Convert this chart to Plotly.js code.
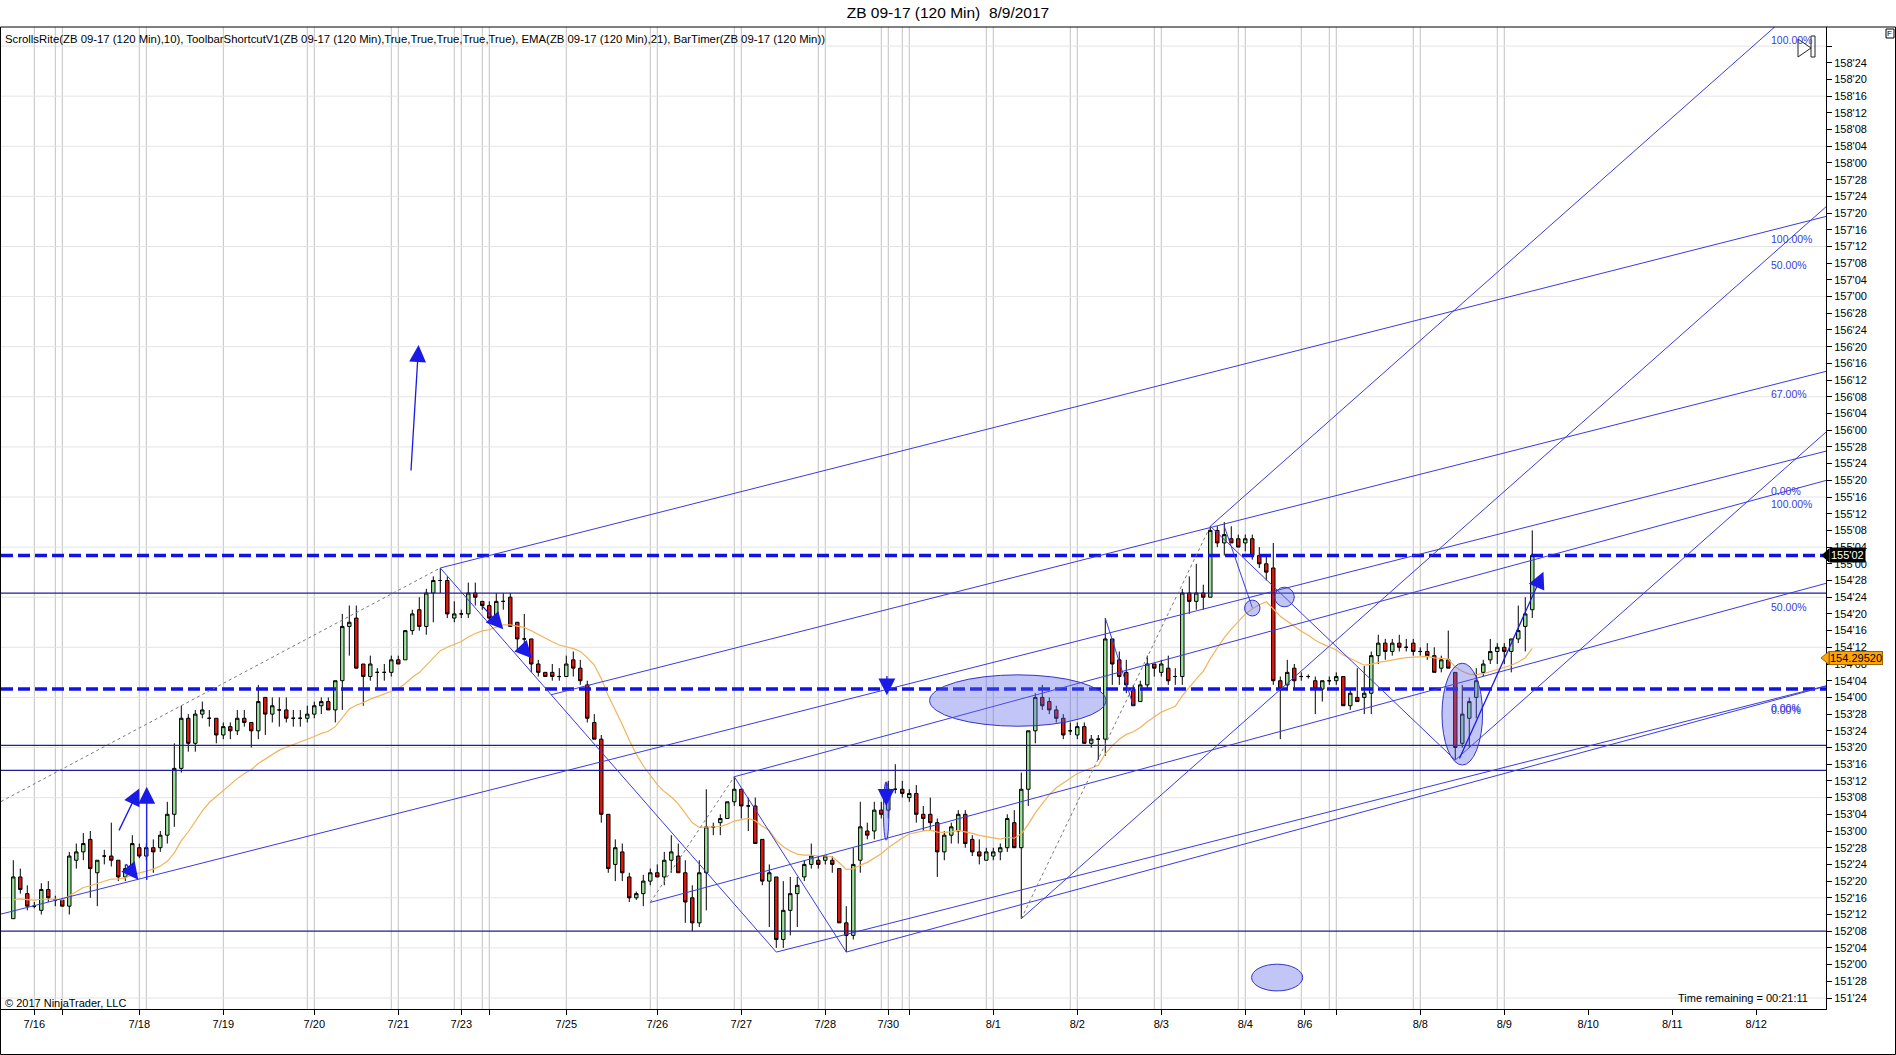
<!DOCTYPE html>
<html>
<head>
<meta charset="utf-8">
<script src="https://cdn.plot.ly/plotly-3.0.1.min.js"></script>
<style>
html,body{margin:0;padding:0;background:#fff;}
#chart{width:1896px;height:1055px;}
</style>
</head>
<body>
<div id="chart"></div>
<script>
// ===== DATA (prices in 32nds of a point; bar index 0 = first bar of the 7/16 session) =====
const firstBar = -3;
const opens = [
4875,4885,4881,4878,4877,4882,4879.5,4879.5,4878,4889,
4891,4894,4886,4890,4890,4889,4885,4887,4892,4890,
4892,4892,4895,4900,4911,4923,4917,4924,4923,4923,
4919,4921,4920,4923,4922,4920,4928,4924,4925,4925,
4923,4923,4923,4924,4926,4927,4925,4932,4945,4947,
4936,4933,4934,4934,4934,4937,4937,4944,4949,4945,
4953,4956,4956,4947,4948,4948,4953,4951,4950,4947,
4951,4952,4946,4942,4942,4936,4934,4934,4933,4933,
4937,4935,4931,4922,4918,4900,4888,4891,4885,4880,
4881,4884,4886,4885,4889,4890,4886,4880,4874,4886,
4897,4898,4899,4903,4906,4902,4902,4894,4884,4885,
4870,4877,4881,4885,4888,4889,4889,4889,4887,4874,
4871,4889,4896,4896,4901,4901,4906,4906,4904,4905,
4900,4900,4898,4891,4895,4896,4900,4894,4891,4889,
4890,4891,4892,4898,4892,4906,4920,4928,4927,4925,
4923,4920,4919,4921,4917,4918,4918,4942,4937,4934,
4930,4927,4931,4936,4934,4935,4933,4933,4953,4951,
4953,4952,4968,4965,4966,4966,4965,4966,4962,4960,
4959,4932,4931,4935,4933,4933,4932,4930,4932,4932,
4933,4926,4928,4928,4929,4938,4941,4939,4941,4940,
4941,4939,4939,4938,4935,4937,4934,4917,4923,4928,
4934,4937,4939,4940,4939,4942,4945,4949];
const highs = [
4889,4887,4883,4879,4883.5,4884,4880.5,4880,4891,4893,
4895.5,4896,4889,4891.5,4898,4889,4888,4895,4893,4893,
4894,4896,4903,4917,4926,4924,4925,4927,4925,4923,
4922,4922,4925,4925,4922,4931,4928,4928,4928,4928,
4925,4925,4926,4927,4928,4928,4932,4948,4950,4950,
4936,4938,4935,4936,4938,4938,4944,4949,4952,4954,
4957,4959,4957,4951,4949,4955.5,4955.5,4951,4951,4953,
4953,4953,4946,4948,4942,4937,4934,4936,4935,4938,
4939,4937,4932,4924,4919,4900,4894,4893,4886,4881.5,
4885.5,4887,4888,4891,4895,4893,4889,4883,4889,4906,
4898,4900,4903,4909,4906,4904,4904,4894,4888,4885,
4884,4885,4885,4889,4893,4890,4890,4890,4887,4878,
4892,4903,4898,4903,4903,4908,4912,4908,4906,4907,
4902,4904,4899,4896,4898,4901,4901,4895,4894,4892,
4892,4893,4900,4901,4910,4920,4929,4931,4928,4926,
4924,4922,4922,4922,4919,4919,4947,4942,4939,4937,
4931,4932,4938,4936,4937,4938,4935,4954,4957,4960,
4955,4969,4969,4970,4969,4967,4967,4967,4964,4962,
4965,4933,4937,4936,4934,4933.5,4933,4932,4933,4934,
4933,4930,4935,4935.5,4939,4943,4942,4942,4943,4942,
4942,4940,4941,4940,4938,4944,4934,4931,4928,4935,
4937,4942,4941,4941,4942,4950,4952,4968];
const lows = [
4875,4881,4877,4877.5,4876,4879,4878,4878,4876,4887,
4889,4880,4878,4888,4887.5,4884,4884,4886,4889.5,4889,
4886,4891,4893,4897,4910,4915,4915,4923,4921,4917,
4918,4918,4919,4921,4916,4918,4919,4922,4921,4922,
4921,4921,4922,4923,4924,4925,4922,4925,4938,4935,
4926,4932,4930,4932,4933,4936,4937,4943,4944,4943,
4946,4953,4947,4946,4947,4947,4950,4949,4946,4946,
4949,4945,4939,4940,4934,4933,4933,4932,4932,4933,
4933,4931,4922,4918,4898,4886,4884,4884,4879,4879.5,
4878,4883,4885,4883,4886,4886,4874,4872,4873,4877,
4895,4895,4899,4902,4899,4896,4893,4883,4873,4868,
4868,4871,4873,4884,4887,4887,4888,4886,4874,4867,
4870,4886,4894,4894,4899,4899,4905,4904,4903,4898,
4896,4896,4885,4889,4893,4893,4892,4890,4888,4889,
4889,4889,4891,4892,4875,4902,4917,4925,4924,4922,
4918,4919,4918,4917,4916,4913,4914,4931,4931,4929,
4926,4927,4930,4933,4933,4931,4931,4931,4948,4949,
4949,4952,4964,4962,4965,4964,4963,4961,4959,4956,
4931,4918,4930,4930,4932,4932.5,4924,4927,4931,4931,
4926,4925,4927,4924,4924,4936,4937,4938,4939,4939,
4938,4938,4937,4934,4934,4935,4913,4916,4916,4923,
4933,4936,4936,4936,4934,4941,4939,4947];
const closes = [
4885,4882,4878,4878,4882,4880,4879.5,4878,4890,4891,
4893,4887,4889,4890,4889,4885,4887,4893,4890,4892,
4891,4895,4900,4911,4923,4917,4924,4925,4923,4919,
4921,4920,4923,4922,4920,4927,4924,4926,4925,4923,
4923,4923,4924,4926,4927,4925,4932,4945,4946,4935,
4933,4936,4934,4934,4937,4936,4944,4948,4945,4953,
4956,4956,4948,4948,4948,4953,4952,4950,4947,4951,
4951,4945,4942,4942,4936,4934,4933,4933,4933,4936,
4935,4932,4923,4918,4900,4887,4892,4886,4880,4881,
4884,4886,4885,4889,4891,4886,4879,4874,4886,4897,
4897,4899,4903,4906,4902,4902,4893,4884,4886,4870,
4877,4881,4883,4888,4890,4888,4890,4888,4874,4871,
4888,4897,4895,4901,4900,4906,4906,4905,4905,4900,
4899,4898,4891,4895,4897,4900,4893,4891,4890,4891,
4891,4892,4899,4892,4906,4920,4928,4926,4925,4923,
4919,4920,4921,4917,4918,4918,4942,4936,4933,4931,
4926,4931,4936,4935,4936,4932,4933,4953,4951,4953,
4952,4968,4965,4967,4965,4964,4966,4962,4960,4958,
4932,4930,4934,4932,4933,4933,4930,4932,4932,4933,
4926,4929,4927,4929,4938,4941,4939,4941,4940,4940,
4939,4939,4938,4934,4937,4935,4916,4924,4927,4932,
4936,4939,4940,4939,4942,4944,4948,4962];

const emaPeriod = 21;
const emaSeed = 4879.5;                 // EMA value at the first visible bar
const emaMarkerValue = 154.29520;       // price shown in the orange marker
const emaMarkerText = '154.29520';

const dateTickBars   = [0,4,15,27,40,52,61,65,76,89,101,113,122,125,137,149,161,173,181.5,186,198,210,222,234,246];
const dateTickLabels = ['7/16','','7/18','7/19','7/20','7/21','7/23','','7/25','7/26','7/27','7/28','7/30','','8/1','8/2','8/3','8/4','8/6','','8/8','8/9','8/10','8/11','8/12'];
const gridBars = [0,3,4,15,16,27,39,40,51,52,60,61,64,65,76,88,89,100,101,112,113,121,122,124,125,136,137,148,149,160,161,172,173,181,185,186,197,198,209,210];

const dashedLevels = [4962, 4930];
const solidLevels  = [4953, 4916.5, 4910.5, 4872];

// Andrews pitchforks: anchors [bar, price32]
const forkA = [[-62.6,4851.5],[88,4878.9],[141,4875]];
const forkB = [[58,4959],[100,4909],[168,4969]];
const forkC = [[106,4867],[116,4867],[203,4913]];
const forkLevels      = [[0,0.67,1],[0,1],[0,1]];
const forkLevelLabels = [['0.00%','67.00%','100.00%'],['0.00%','100.00%'],['0.00%','100.00%']];
const forkMedianLabel = ['','50.00%','50.00%'];

// free-hand lines
const lineBar0   = [170, 153];
const linePrice0 = [4969, 4947];
const lineBar1   = [174, 157];
const linePrice1 = [4949.5, 4926];

// arrows (tail -> head)
const arrowTailBar   = [53.8, 12.0, 16.06, 12.97, 63.9, 69.6, 121.8, 121.7, 203.5];
const arrowTailPrice = [4982, 4895.8, 4883.9, 4888.4, 4950.1, 4940.1, 4933.5, 4908, 4913];
const arrowHeadBar   = [54.9, 15.0, 16.06, 14.86, 67.0, 71.1, 121.8, 121.7, 215.6];
const arrowHeadPrice = [5012.4, 4906.2, 4906.6, 4884.3, 4944.3, 4937.4, 4928.5, 4902, 4958.1];

// ellipses
const ellBar0  = [127.9, 173.9, 172.9, 177.2, 201.1, 121.3];
const ellBar1  = [153.1, 181.2, 175.1, 180.0, 206.9, 122.1];
const ellLow   = [4921.1, 4857.7, 4947.5, 4949.7, 4911.8, 4893.8];
const ellHigh  = [4933.4, 4864.1, 4951.3, 4954.4, 4936.2, 4907.8];

const headerText = 'ScrollsRite(ZB 09-17 (120 Min),10), ToolbarShortcutV1(ZB 09-17 (120 Min),True,True,True,True,True), EMA(ZB 09-17 (120 Min),21), BarTimer(ZB 09-17 (120 Min))';
const titleText = 'ZB 09-17 (120 Min)\u00a0 8/9/2017';

// ===== STYLE =====
const FONT = '"Liberation Sans", Arial, sans-serif';
const colUp = '#9be49b', colDown = '#e2170c';
const colEma = '#f2b35c';
const colFork = '#3b3bdc', colDash = '#1212e6', colSolid = '#1e1e9c';
const colGridV = '#c2c2c2', colGridH = '#e4e4e4';

const X0 = -4.757, X1 = 255.96;            // bar range
const Y0 = 4853.37/32, Y1 = 5088.57/32;     // price range (points)
const labelBar = 247.8;

// ===== helpers =====
const P = v => v/32;
function fmt32(p){ const t = Math.round(p*32); const h = Math.floor(t/32); const r = t - h*32; return h + "'" + String(r).padStart(2,'0'); }
const px = X => (X-1)/1825;       // layout helpers for decorations outside the plot
const py = Y => (1009-Y)/982;

function clip(x0,y0,x1,y1){
  let t0=0,t1=1; const dx=x1-x0, dy=y1-y0;
  const p=[-dx,dx,-dy,dy], q=[x0-X0, X1-x0, y0-Y0, Y1-y0];
  for(let i=0;i<4;i++){
    if(p[i]===0){ if(q[i]<0) return null; }
    else { const r=q[i]/p[i];
      if(p[i]<0){ if(r>t1) return null; if(r>t0) t0=r; }
      else { if(r<t0) return null; if(r<t1) t1=r; } }
  }
  return [x0+t0*dx, y0+t0*dy, x0+t1*dx, y0+t1*dy];
}
const shapes = [], annotations = [];
function seg(x0,y0,x1,y1,color,width,dash){
  const c = clip(x0,y0,x1,y1); if(!c) return;
  shapes.push({type:'line',xref:'x',yref:'y',x0:c[0],y0:c[1],x1:c[2],y1:c[3],line:{color:color,width:width,dash:dash||'solid'}});
}
function ray(x,y,m,color){ const xe = X1+5; seg(x,y,xe,y+m*(xe-x),color,1); }
function rayLabel(x,y,m,text){
  if(!text) return;
  let yl = y + m*(labelBar-x); if(yl>Y1) yl=Y1;
  annotations.push({x:labelBar,y:yl,xref:'x',yref:'y',text:text,showarrow:false,xanchor:'left',yanchor:'top',
    font:{family:FONT,size:10.5,color:colFork}});
}

// ===== grid =====
gridBars.forEach(b=>shapes.push({type:'line',xref:'x',yref:'paper',x0:b,x1:b,y0:0,y1:1,layer:'below',line:{color:colGridV,width:1}}));
for(let v=4856; v<=5088; v+=12){ shapes.push({type:'line',xref:'paper',yref:'y',x0:0,x1:1,y0:P(v),y1:P(v),layer:'below',line:{color:colGridH,width:1}}); }

// ===== horizontal levels =====
solidLevels.forEach(v=>shapes.push({type:'line',xref:'paper',yref:'y',x0:0,x1:1,y0:P(v),y1:P(v),line:{color:colSolid,width:1.3}}));
dashedLevels.forEach(v=>shapes.push({type:'line',xref:'paper',yref:'y',x0:0,x1:1,y0:P(v),y1:P(v),line:{color:colDash,width:3.5,dash:'12px,5px'}}));

// ===== pitchforks =====
for(let f=0; f<forkA.length; f++){
  const A=[forkA[f][0],P(forkA[f][1])], B=[forkB[f][0],P(forkB[f][1])], C=[forkC[f][0],P(forkC[f][1])];
  const M=[(B[0]+C[0])/2,(B[1]+C[1])/2];
  const m=(M[1]-A[1])/(M[0]-A[0]);
  seg(A[0],A[1],B[0],B[1],'#7a7a7a',1,'dot');       // handle
  seg(B[0],B[1],C[0],C[1],colFork,1);               // B-C
  ray(A[0],A[1],m,colFork);                          // median
  rayLabel(A[0],A[1],m,forkMedianLabel[f]);
  forkLevels[f].forEach((lv,i)=>{
    const S=[C[0]+lv*(B[0]-C[0]), C[1]+lv*(B[1]-C[1])];
    ray(S[0],S[1],m,colFork);
    rayLabel(S[0],S[1],m,forkLevelLabels[f][i]);
  });
}
// free lines
lineBar0.forEach((b,i)=>seg(b,P(linePrice0[i]),lineBar1[i],P(linePrice1[i]),colFork,1));

// ellipses
ellBar0.forEach((b,i)=>shapes.push({type:'circle',xref:'x',yref:'y',x0:b,x1:ellBar1[i],y0:P(ellLow[i]),y1:P(ellHigh[i]),
  fillcolor:'rgba(95,105,235,0.38)',line:{color:'#3434c8',width:1}}));

// arrows
arrowHeadBar.forEach((b,i)=>annotations.push({x:b,y:P(arrowHeadPrice[i]),ax:arrowTailBar[i],ay:P(arrowTailPrice[i]),
  xref:'x',yref:'y',axref:'x',ayref:'y',text:'',showarrow:true,arrowhead:2,arrowsize:2.6,arrowwidth:1.3,arrowcolor:'#1a1ae6',standoff:0}));

// ===== texts =====
annotations.push({xref:'paper',yref:'paper',x:px(3),y:py(39),xanchor:'left',yanchor:'middle',showarrow:false,text:headerText,font:{family:FONT,size:11.35,color:'#000'}});
annotations.push({xref:'paper',yref:'paper',x:px(3),y:py(1003),xanchor:'left',yanchor:'middle',showarrow:false,text:'© 2017 NinjaTrader, LLC',font:{family:FONT,size:11,color:'#000'}});
annotations.push({xref:'paper',yref:'paper',x:px(1810),y:py(998),xanchor:'right',yanchor:'middle',showarrow:false,text:'Time remaining = 00:21:11',font:{family:FONT,size:11,color:'#000'}});

// top-right decorations
shapes.push({type:'path',xref:'paper',yref:'paper',path:`M ${px(1798)} ${py(39)} L ${px(1798)} ${py(57)} L ${px(1811)} ${py(48)} Z`,line:{color:'#222',width:1},fillcolor:'rgba(0,0,0,0)'});
shapes.push({type:'rect',xref:'paper',yref:'paper',x0:px(1811),x1:px(1815),y0:py(57),y1:py(36),line:{color:'#222',width:1}});
shapes.push({type:'rect',xref:'paper',yref:'paper',x0:px(1886),x1:px(1894),y0:py(38),y1:py(29),line:{color:'#000',width:1},fillcolor:'#fff'});
annotations.push({xref:'paper',yref:'paper',x:px(1890),y:py(33.5),xanchor:'center',yanchor:'middle',showarrow:false,text:'F',font:{family:FONT,size:8,color:'#000'}});

// outer frame
shapes.push({type:'rect',xref:'paper',yref:'paper',x0:px(0.5),x1:px(1895.5),y0:py(1054.5),y1:1,line:{color:'#000',width:1}});

// ===== series =====
const bars = opens.map((_,i)=>firstBar+i);
const alpha = 2/(emaPeriod+1);
const ema = [];
closes.forEach((c,i)=>ema.push(i===0 ? emaSeed : ema[i-1]+alpha*(c-ema[i-1])));

// price markers on the axis
const lastClose = P(closes[closes.length-1]);
const hh = 6.5/4.175/32;
shapes.push({type:'path',xref:'paper',yref:'y',path:`M ${px(1822)} ${lastClose} L ${px(1829)} ${lastClose+hh} L ${px(1829)} ${lastClose-hh} Z`,fillcolor:'#000',line:{color:'#000',width:1}});
annotations.push({xref:'paper',yref:'y',x:px(1829),y:lastClose,xanchor:'left',yanchor:'middle',showarrow:false,text:fmt32(lastClose),
  bgcolor:'#000',borderpad:1,font:{family:FONT,size:11,color:'#fff'}});
shapes.push({type:'path',xref:'paper',yref:'y',path:`M ${px(1821)} ${emaMarkerValue} L ${px(1829)} ${emaMarkerValue+hh} L ${px(1829)} ${emaMarkerValue-hh} Z`,fillcolor:'#ffa500',line:{color:'#9a6200',width:1}});
annotations.push({xref:'paper',yref:'y',x:px(1829),y:emaMarkerValue,xanchor:'left',yanchor:'middle',showarrow:false,text:emaMarkerText,
  bgcolor:'#ffa500',bordercolor:'#9a6200',borderwidth:1,borderpad:0,font:{family:FONT,size:11,color:'#000'}});

// y ticks
const yTickVals=[], yTickText=[];
for(let v=4856; v<=5084; v+=4){ yTickVals.push(P(v)); yTickText.push(v===5084 ? '' : fmt32(P(v))); }

const traces = [
  {type:'candlestick', x:bars, open:opens.map(P), high:highs.map(P), low:lows.map(P), close:closes.map(P),
   increasing:{line:{color:'#000',width:1},fillcolor:colUp},
   decreasing:{line:{color:'#000',width:1},fillcolor:colDown},
   whiskerwidth:0, hoverinfo:'skip', showlegend:false},
  {type:'scatter', mode:'lines', x:bars, y:ema.map(P), line:{color:colEma,width:1.2}, hoverinfo:'skip', showlegend:false}
];

const layout = {
  width:1896, height:1055,
  margin:{l:1,r:70,t:27,b:46,pad:0},
  paper_bgcolor:'#fff', plot_bgcolor:'#fff',
  font:{family:FONT,size:11,color:'#000'},
  showlegend:false,
  title:{text:titleText, font:{family:FONT,size:15.5,color:'#000'}, x:0.5, xanchor:'center', y:1-13/1055, yanchor:'middle'},
  xaxis:{range:[X0,X1], tickmode:'array', tickvals:dateTickBars, ticktext:dateTickLabels, ticks:'outside', ticklen:5, tickcolor:'#000',
         showline:true, linecolor:'#000', linewidth:1, showgrid:false, zeroline:false, rangeslider:{visible:false}, fixedrange:true,
         tickfont:{family:FONT,size:11,color:'#000'}},
  yaxis:{side:'right', range:[Y0,Y1], tickmode:'array', tickvals:yTickVals, ticktext:yTickText, ticks:'outside', ticklen:5, tickcolor:'#000',
         showline:true, linecolor:'#000', linewidth:1, showgrid:false, zeroline:false, fixedrange:true,
         tickfont:{family:FONT,size:11,color:'#000'}},
  boxgap:0.3,
  shapes:shapes, annotations:annotations
};
Plotly.newPlot('chart', traces, layout, {staticPlot:true, displayModeBar:false});
</script>
</body>
</html>
